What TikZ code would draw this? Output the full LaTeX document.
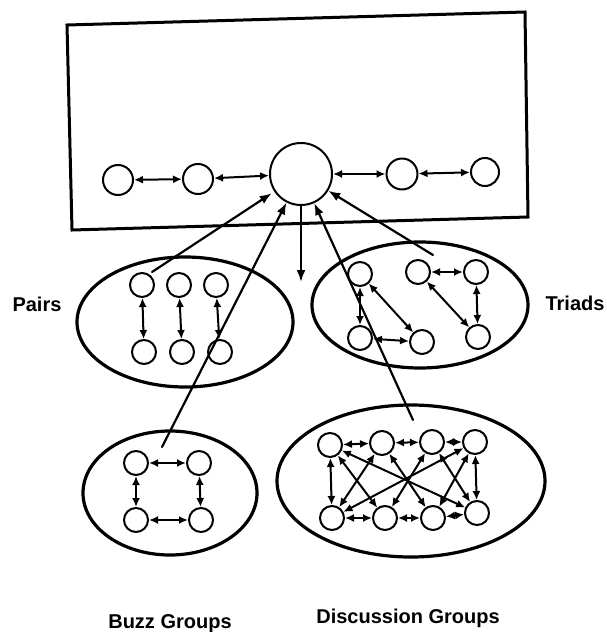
\documentclass[tikz,border=0pt]{standalone}
\usepackage{fontspec}
\setmainfont{Liberation Sans}
\usetikzlibrary{arrows.meta}
\tikzset{
  frame/.style={draw=black, line width=3pt, line join=miter},
  group/.style={draw=black, line width=3.2pt},
  member/.style={circle, draw=black, line width=2pt, minimum size=24pt, inner sep=0pt},
  talk/.style={{Latex[length=9pt,width=8pt]}-{Latex[length=9pt,width=8pt]}, line width=2pt},
  feed/.style={-{Latex[length=12pt,width=9pt]}, line width=2.2pt},
  lab/.style={font=\fontsize{20}{24}\selectfont\bfseries, anchor=base}
}

\begin{document}
\begin{tikzpicture}[x=1pt, y=-1pt, line cap=round, line join=round]
  \useasboundingbox (0,0) rectangle (607,632);
  % the setting
  \draw[frame] (67,25) -- (525,12) -- (528,217) -- (72,230) -- cycle;
  \node[member, minimum size=30pt] (S1) at (118,180) {};
  \node[member, minimum size=30pt] (S2) at (198,179) {};
  \node[member, minimum size=62pt] (H) at (301,174) {};
  \node[member, minimum size=31pt] (S4) at (402,174) {};
  \node[member, minimum size=28pt] (S5) at (485,172) {};
  \draw[talk] (S1) -- (S2);
  \draw[talk] (S2) -- (H);
  \draw[talk] (H) -- (S4);
  \draw[talk] (S4) -- (S5);

  % the groups
  \draw[group] (185,322) ellipse [x radius=108pt, y radius=65pt];
  \draw[group] (420,305) ellipse [x radius=108pt, y radius=63pt];
  \draw[group] (170,493) ellipse [x radius=87pt, y radius=62pt];
  \draw[group] (411,481) ellipse [x radius=134pt, y radius=76pt];

  % pairs
  \node[member] (P1) at (142,285) {};
  \node[member] (P2) at (144,352) {};
  \node[member] (P3) at (179,285) {};
  \node[member] (P4) at (182,352) {};
  \node[member] (P5) at (216,285) {};
  \node[member] (P6) at (220,352) {};
  \draw[talk] (P1) -- (P2);
  \draw[talk] (P3) -- (P4);
  \draw[talk] (P5) -- (P6);

  % triads
  \node[member] (T1) at (360,274) {};
  \node[member] (T2) at (360,338) {};
  \node[member] (T3) at (422,342) {};
  \node[member] (T4) at (418,272) {};
  \node[member] (T5) at (476,272) {};
  \node[member] (T6) at (478,337) {};
  \draw[talk] (T1) -- (T2);
  \draw[talk] (T1) -- (T3);
  \draw[talk] (T2) -- (T3);
  \draw[talk] (T4) -- (T5);
  \draw[talk] (T5) -- (T6);
  \draw[talk] (T4) -- (T6);

  % buzz groups
  \node[member] (B1) at (136,463) {};
  \node[member] (B2) at (199,463) {};
  \node[member] (B3) at (136,520) {};
  \node[member] (B4) at (201,520) {};
  \draw[talk] (B1) -- (B2);
  \draw[talk] (B3) -- (B4);
  \draw[talk] (B1) -- (B3);
  \draw[talk] (B2) -- (B4);

  % discussion groups
  \node[member] (D1) at (330,445) {};
  \node[member] (D2) at (382,443) {};
  \node[member] (D3) at (432,442) {};
  \node[member] (D4) at (475,442) {};
  \node[member] (D5) at (332,518) {};
  \node[member] (D6) at (385,518) {};
  \node[member] (D7) at (433,518) {};
  \node[member] (D8) at (477,513) {};
  \draw[talk] (D1) -- (D2);
  \draw[talk] (D2) -- (D3);
  \draw[talk] (D3) -- (D4);
  \draw[talk] (D5) -- (D6);
  \draw[talk] (D6) -- (D7);
  \draw[talk] (D7) -- (D8);
  \draw[talk] (D1) -- (D5);
  \draw[talk] (D4) -- (D8);
  \draw[talk] (D1) -- (D6);
  \draw[talk] (D1) -- (D8);
  \draw[talk] (D2) -- (D5);
  \draw[talk] (D2) -- (D7);
  \draw[talk] (D3) -- (D6);
  \draw[talk] (D3) -- (D8);
  \draw[talk] (D4) -- (D5);
  \draw[talk] (D4) -- (D7);

  % links to the setting
  \coordinate (pairsEnd) at (152,272);
  \coordinate (buzzEnd) at (162,447);
  \coordinate (triadsEnd) at (433,255);
  \coordinate (discEnd) at (413,420);
  \coordinate (downEnd) at (301,282);
  \draw[feed, shorten >=3pt] (pairsEnd) -- (H);
  \draw[feed] (buzzEnd) -- (H);
  \draw[feed] (discEnd) -- (H);
  \draw[feed] (triadsEnd) -- (H);
  \draw[feed] (H) -- (downEnd);

  \node[lab] (pairs) at (37,311) {Pairs};
  \node[lab] (triads) at (575,310) {Triads};
  \node[lab] (buzz) at (170,628) {Buzz Groups};
  \node[lab] (disc) at (408,623) {Discussion Groups};
\end{tikzpicture}
\end{document}
